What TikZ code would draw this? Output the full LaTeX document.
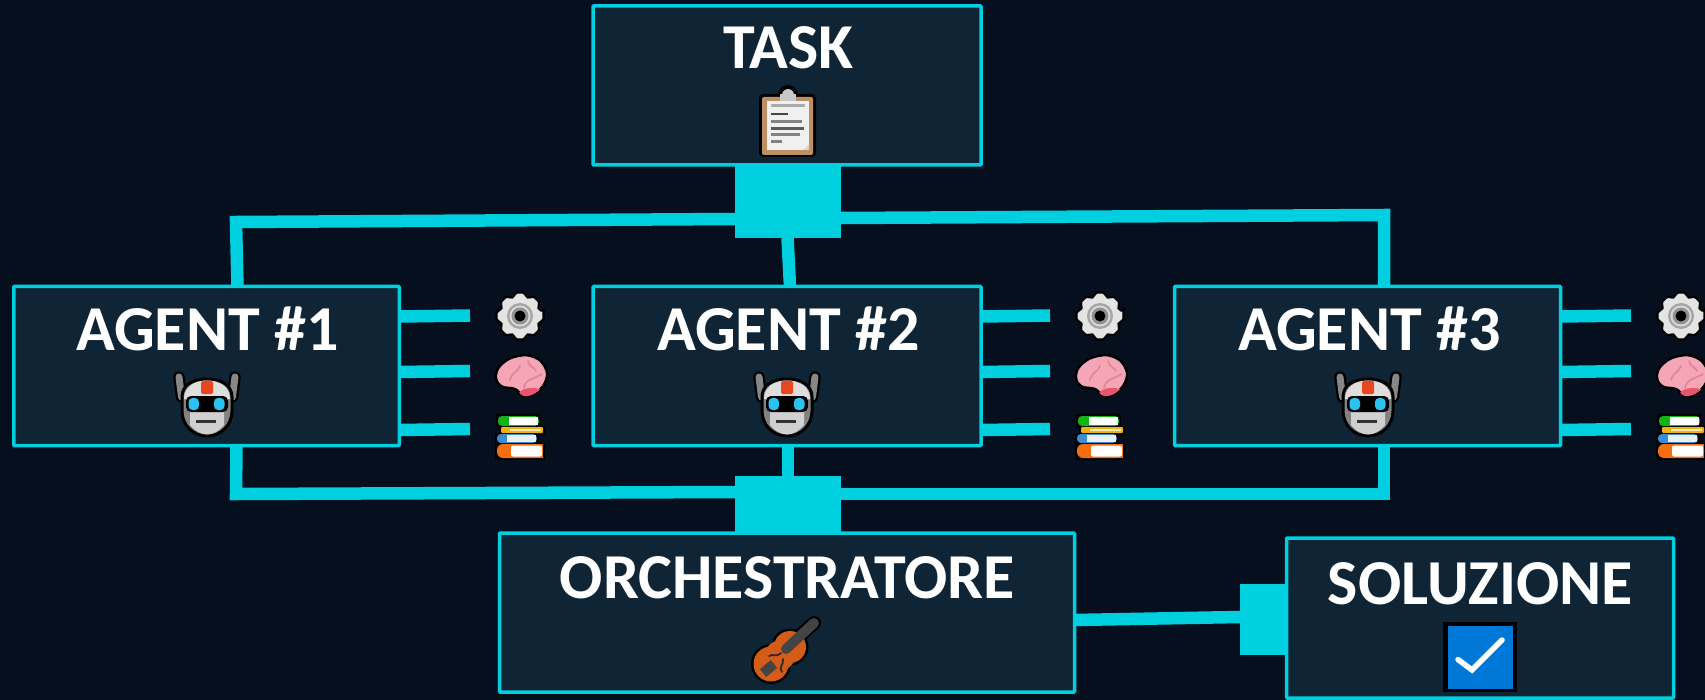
\documentclass[tikz,border=0pt]{standalone}
\usepackage{fontspec}
\setmainfont{Carlito}
\definecolor{bgc}{HTML}{050F1E}
\definecolor{boxc}{HTML}{0F2536}
\definecolor{cyanc}{HTML}{00CFE0}
\tikzset{
  box/.style={draw=cyanc,fill=boxc,line width=3.5pt,inner sep=0pt,outer sep=0pt,rounded corners=0.8pt},
  hub/.style={fill=cyanc,inner sep=0pt,outer sep=0pt},
  conn/.style={draw=cyanc,line width=12.5pt,line join=miter},
  title/.style={text=white,font=\fontsize{64}{64}\selectfont\bfseries,anchor=base,inner sep=0pt},
}
% ---- icons: all coordinates relative to the icon centre, in pixels
\newcommand\clipicon[2]{\begin{scope}[shift={(#1,#2)}]
  \fill[black,rounded corners=4pt] (-29,-30) rectangle (28,33);
  \fill[black] (0,-29) circle (10);
  \fill[color={rgb,255:red,189;green,143;blue,99},rounded corners=2pt] (-26,-27) rectangle (25,31);
  \fill[color={rgb,255:red,240;green,240;blue,240}] (-21,-23) rectangle (21,26);
  \fill[color={rgb,255:red,200;green,200;blue,200}] (-8,-23) rectangle (8,-30);
  \fill[color={rgb,255:red,200;green,200;blue,200}] (0,-29) circle (6);
  \fill[color={rgb,255:red,170;green,170;blue,170}] (-17,-20) rectangle (17,-16.5);
  \fill[color={rgb,255:red,70;green,70;blue,70}] (-17,-11) rectangle (0,-8.5);
  \fill[color={rgb,255:red,130;green,130;blue,130}] (-17,-3.5) rectangle (14,-0.5);
  \fill[color={rgb,255:red,90;green,90;blue,90}] (-17,3) rectangle (16,6);
  \fill[color={rgb,255:red,130;green,130;blue,130}] (-17,9.5) rectangle (12,12.5);
  \fill[color={rgb,255:red,130;green,130;blue,130}] (-17,16) rectangle (-6,19);
  \fill[color={rgb,255:red,215;green,215;blue,215}] (21,20) -- (15,26) -- (21,26) -- cycle;
\end{scope}}
\newcommand\roboticon[2]{\begin{scope}[shift={(#1,#2)}]
  \foreach \s in {-1,1}{
    \draw[black,line width=11.5pt,line cap=round] (\s*28,-28) -- (\s*25.5,-8);
    \draw[color={rgb,255:red,135;green,135;blue,135},line width=7pt,line cap=round] (\s*28,-28) -- (\s*25.5,-8);
  }
  \path[fill={rgb,255:red,130;green,130;blue,130},draw=black,line width=3pt]
    (-25,-8) .. controls (-25,-20) and (-14,-26) .. (0,-26)
    .. controls (14,-26) and (25,-20) .. (25,-8)
    -- (25,6) .. controls (25,20) and (14,31) .. (0,31)
    .. controls (-14,31) and (-25,20) .. (-25,6) -- cycle;
  \fill[color={rgb,255:red,222;green,222;blue,222}]
    (-23,-6) .. controls (-23,-18) and (-13,-24.5) .. (0,-24.5)
    .. controls (13,-24.5) and (23,-18) .. (23,-6) -- cycle;
  \fill[color={rgb,255:red,208;green,208;blue,208}]
    (-17,4) -- (17,4) -- (17,20) .. controls (11,27) and (5,29.5) .. (0,29.5)
    .. controls (-5,29.5) and (-11,27) .. (-17,20) -- cycle;
  \fill[color={rgb,255:red,232;green,70;blue,30},rounded corners=1.5pt] (-6,-24) rectangle (6,-11);
  \fill[black,rounded corners=5pt] (-21,-9) rectangle (21,7);
  \fill[color={rgb,255:red,40;green,195;blue,240},rounded corners=4pt] (-18.5,-7) rectangle (-8,5);
  \fill[color={rgb,255:red,40;green,195;blue,240},rounded corners=4pt] (7,-7) rectangle (17.5,5);
  \fill[color={rgb,255:red,50;green,50;blue,50}] (-11,14.5) rectangle (9,18);
\end{scope}}
\newcommand\gearicon[2]{\begin{scope}[shift={(#1,#2)}]
  \path[fill={rgb,255:red,228;green,228;blue,228},draw=black,line width=2.2pt,line join=round,rounded corners=2pt]
    (-12:24) \foreach \a in {0,45,...,315}{
      -- (\a-12:24) -- (\a+12:24) -- (\a+17:20) -- (\a+28:20)
    } -- cycle;
  \fill[color={rgb,255:red,165;green,165;blue,165}] (0,0) circle (13);
  \fill[color={rgb,255:red,218;green,218;blue,218}] (0,0) circle (10.5);
  \fill[color={rgb,255:red,145;green,145;blue,145}] (0,0) circle (8.5);
  \fill[black] (0,0) circle (5.5);
\end{scope}}
\newcommand\brainicon[2]{\begin{scope}[shift={(#1,#2)}]
  \path[fill={rgb,255:red,244;green,165;blue,182},draw=black,line width=2.4pt]
    plot[smooth cycle,tension=0.75] coordinates {(-24,0) (-17,-12) (-2,-19) (14,-18) (25,-8) (26,5) (17,17) (4,21) (-5,14) (-19,11)};
  \begin{scope}
    \clip plot[smooth cycle,tension=0.75] coordinates {(-24,0) (-17,-12) (-2,-19) (14,-18) (25,-8) (26,5) (17,17) (4,21) (-5,14) (-19,11)};
    \fill[color={rgb,255:red,232;green,85;blue,108}] (12,22) ellipse (15 and 9);
  \end{scope}
  \draw[color={rgb,255:red,228;green,130;blue,150},line width=1.6pt,line cap=round]
    (-10,5) .. controls (-8,-3) and (-3,-2) .. (0,-9)
    (4,13) .. controls (5,4) and (14,4) .. (22,-1)
    (8,-14) .. controls (9,-8) and (14,-8) .. (16,-4);
\end{scope}}
\newcommand\booksicon[2]{\begin{scope}[shift={(#1,#2)}]
  \fill[black,rounded corners=2pt] (-24,-23) rectangle (21,-9);
  \fill[black,rounded corners=2pt] (-21,-11) rectangle (25,-2);
  \fill[black,rounded corners=2pt] (-25,-4) rectangle (19,8);
  \fill[black,rounded corners=2pt] (-25,6) rectangle (25,23);
  \fill[color={rgb,255:red,20;green,180;blue,20},rounded corners=4pt] (-22,-21) rectangle (19,-11);
  \fill[white] (-11,-20) rectangle (18,-12);
  \fill[color={rgb,255:red,245;green,175;blue,15},rounded corners=1pt] (-19,-10) rectangle (23,-4);
  \fill[color={rgb,255:red,245;green,235;blue,190}] (-10,-8.5) rectangle (21,-6);
  \fill[color={rgb,255:red,60;green,140;blue,220},rounded corners=4pt] (-23,-3) rectangle (17,6);
  \fill[color={rgb,255:red,235;green,240;blue,245}] (-13,-2) rectangle (16,5);
  \fill[color={rgb,255:red,245;green,110;blue,15},rounded corners=6pt] (-23,7) rectangle (23,21);
  \fill[color={rgb,255:red,245;green,110;blue,15}] (0,7) rectangle (23,21);
  \fill[white,rounded corners=2pt] (-9,8.5) rectangle (22,19.5);
\end{scope}}
\newcommand\violinicon[2]{\begin{scope}[shift={(#1,#2)}]
  \draw[black,line width=14pt,line cap=round] (0,-3) -- (27,-27);
  \fill[black] (3,-3) circle (18.5);
  \fill[black] (-16,14) circle (20);
  \fill[color={rgb,255:red,210;green,92;blue,24}] (3,-3) circle (16);
  \fill[color={rgb,255:red,210;green,92;blue,24}] (-16,14) circle (17.5);
  \fill[color={rgb,255:red,210;green,92;blue,24}] (-7,5.5) circle (15);
  \draw[color={rgb,255:red,68;green,68;blue,68},line width=10pt,line cap=round] (-1,-1) -- (27,-27);
  \draw[color={rgb,255:red,68;green,68;blue,68},line width=10pt] (-24,23) -- (-13,14);
  \draw[color={rgb,255:red,50;green,40;blue,40},line width=1.8pt,line cap=round]
    (-18,6) .. controls (-14,3) and (-12,8) .. (-6,3)
    (-5,22) .. controls (-9,17) and (-3,15) .. (-4,9);
\end{scope}}
\newcommand\checkicon[2]{\begin{scope}[shift={(#1,#2)}]
  \fill[black] (-37,-35) rectangle (37,35);
  \fill[color={rgb,255:red,0;green,120;blue,215}] (-32.5,-31) rectangle (32.5,32);
  \draw[white,line width=5.5pt,line cap=round,line join=miter] (-22,2.5) -- (-8,13) -- (22,-17);
\end{scope}}
\begin{document}
\begin{tikzpicture}[x=1pt,y=-1pt]
  \useasboundingbox (0,0) rectangle (1705,700);
  \fill[bgc] (0,0) rectangle (1705,700);

  % connector hubs
  \node[hub,minimum width=106pt,minimum height=74pt] (hubT) at (788,201) {};
  \node[hub,minimum width=106pt,minimum height=58pt] (hubB) at (788,505) {};
  \node[hub,minimum width=46pt,minimum height=71pt] (hubS) at (1263,619.5) {};

  % boxes
  \node[box,minimum width=388pt,minimum height=159pt] (task) at (787,85.5) {};
  \node[box,minimum width=385.5pt,minimum height=159pt] (a1) at (206.5,366) {};
  \node[box,minimum width=388pt,minimum height=159pt] (a2) at (787,366) {};
  \node[box,minimum width=386pt,minimum height=159pt] (a3) at (1367.5,366) {};
  \node[box,minimum width=575pt,minimum height=159pt] (orch) at (787,612.5) {};
  \node[box,minimum width=387pt,minimum height=160pt] (sol) at (1480,618) {};

  % connectors
  \draw[conn] ([yshift=-18pt]hubT.west) -- ([yshift=-21pt,xshift=-499pt]hubT.west) -- ([xshift=31pt]a1.north);
  \draw[conn] ([yshift=-17pt]hubT.east) -- ([yshift=-14pt,xshift=543pt]hubT.east) -- ([xshift=16.5pt]a3.north);
  \draw[conn] ([xshift=-0.5pt]hubT.south) -- ([xshift=3pt]a2.north);
  \draw[conn] ([yshift=13pt]hubB.west) -- ([yshift=11pt,xshift=-499pt]hubB.west) -- ([xshift=30pt]a1.south);
  \draw[conn] ([yshift=11pt]hubB.east) -- ([yshift=11pt,xshift=543pt]hubB.east) -- ([xshift=16.5pt]a3.south);
  \draw[conn] ([xshift=1pt]a2.south) -- (hubB.north);
  \draw[conn] (orch.east |- 0,620) -- (hubS.west |- 0,617);

  % agent tools: connectors to their icons
  \foreach \i/\x in {1/0,2/580,3/1161}{
    \coordinate (g\i) at (470+\x,315.5);
    \coordinate (b\i) at (470+\x,371);
    \coordinate (l\i) at (470+\x,429);
    \draw[conn] ([yshift=49.5pt]a\i.east) -- (g\i);
    \draw[conn] ([yshift=-6pt]a\i.east) -- (b\i);
    \draw[conn] ([yshift=-64pt]a\i.east) -- (l\i);
    \gearicon{520+\x}{316}
    \brainicon{520+\x}{375}
    \booksicon{520+\x}{437}
  }

  % titles
  \node[title] (ttask) at (788.5,69) {TASK};
  \node[title] (t1) at (207.5,351) {AGENT \#1};
  \node[title] (t2) at (788.5,351) {AGENT \#2};
  \node[title] (t3) at (1369.5,351) {AGENT \#3};
  \node[title] (torch) at (787.5,598) {ORCHESTRATORE};
  \node[title] (tsol) at (1480.5,604) {SOLUZIONE};

  % icons inside boxes
  \clipicon{788}{124}
  \roboticon{207}{405}
  \roboticon{787}{405}
  \roboticon{1368}{405}
  \violinicon{787}{650}
  \checkicon{1480}{657}
\end{tikzpicture}
\end{document}
